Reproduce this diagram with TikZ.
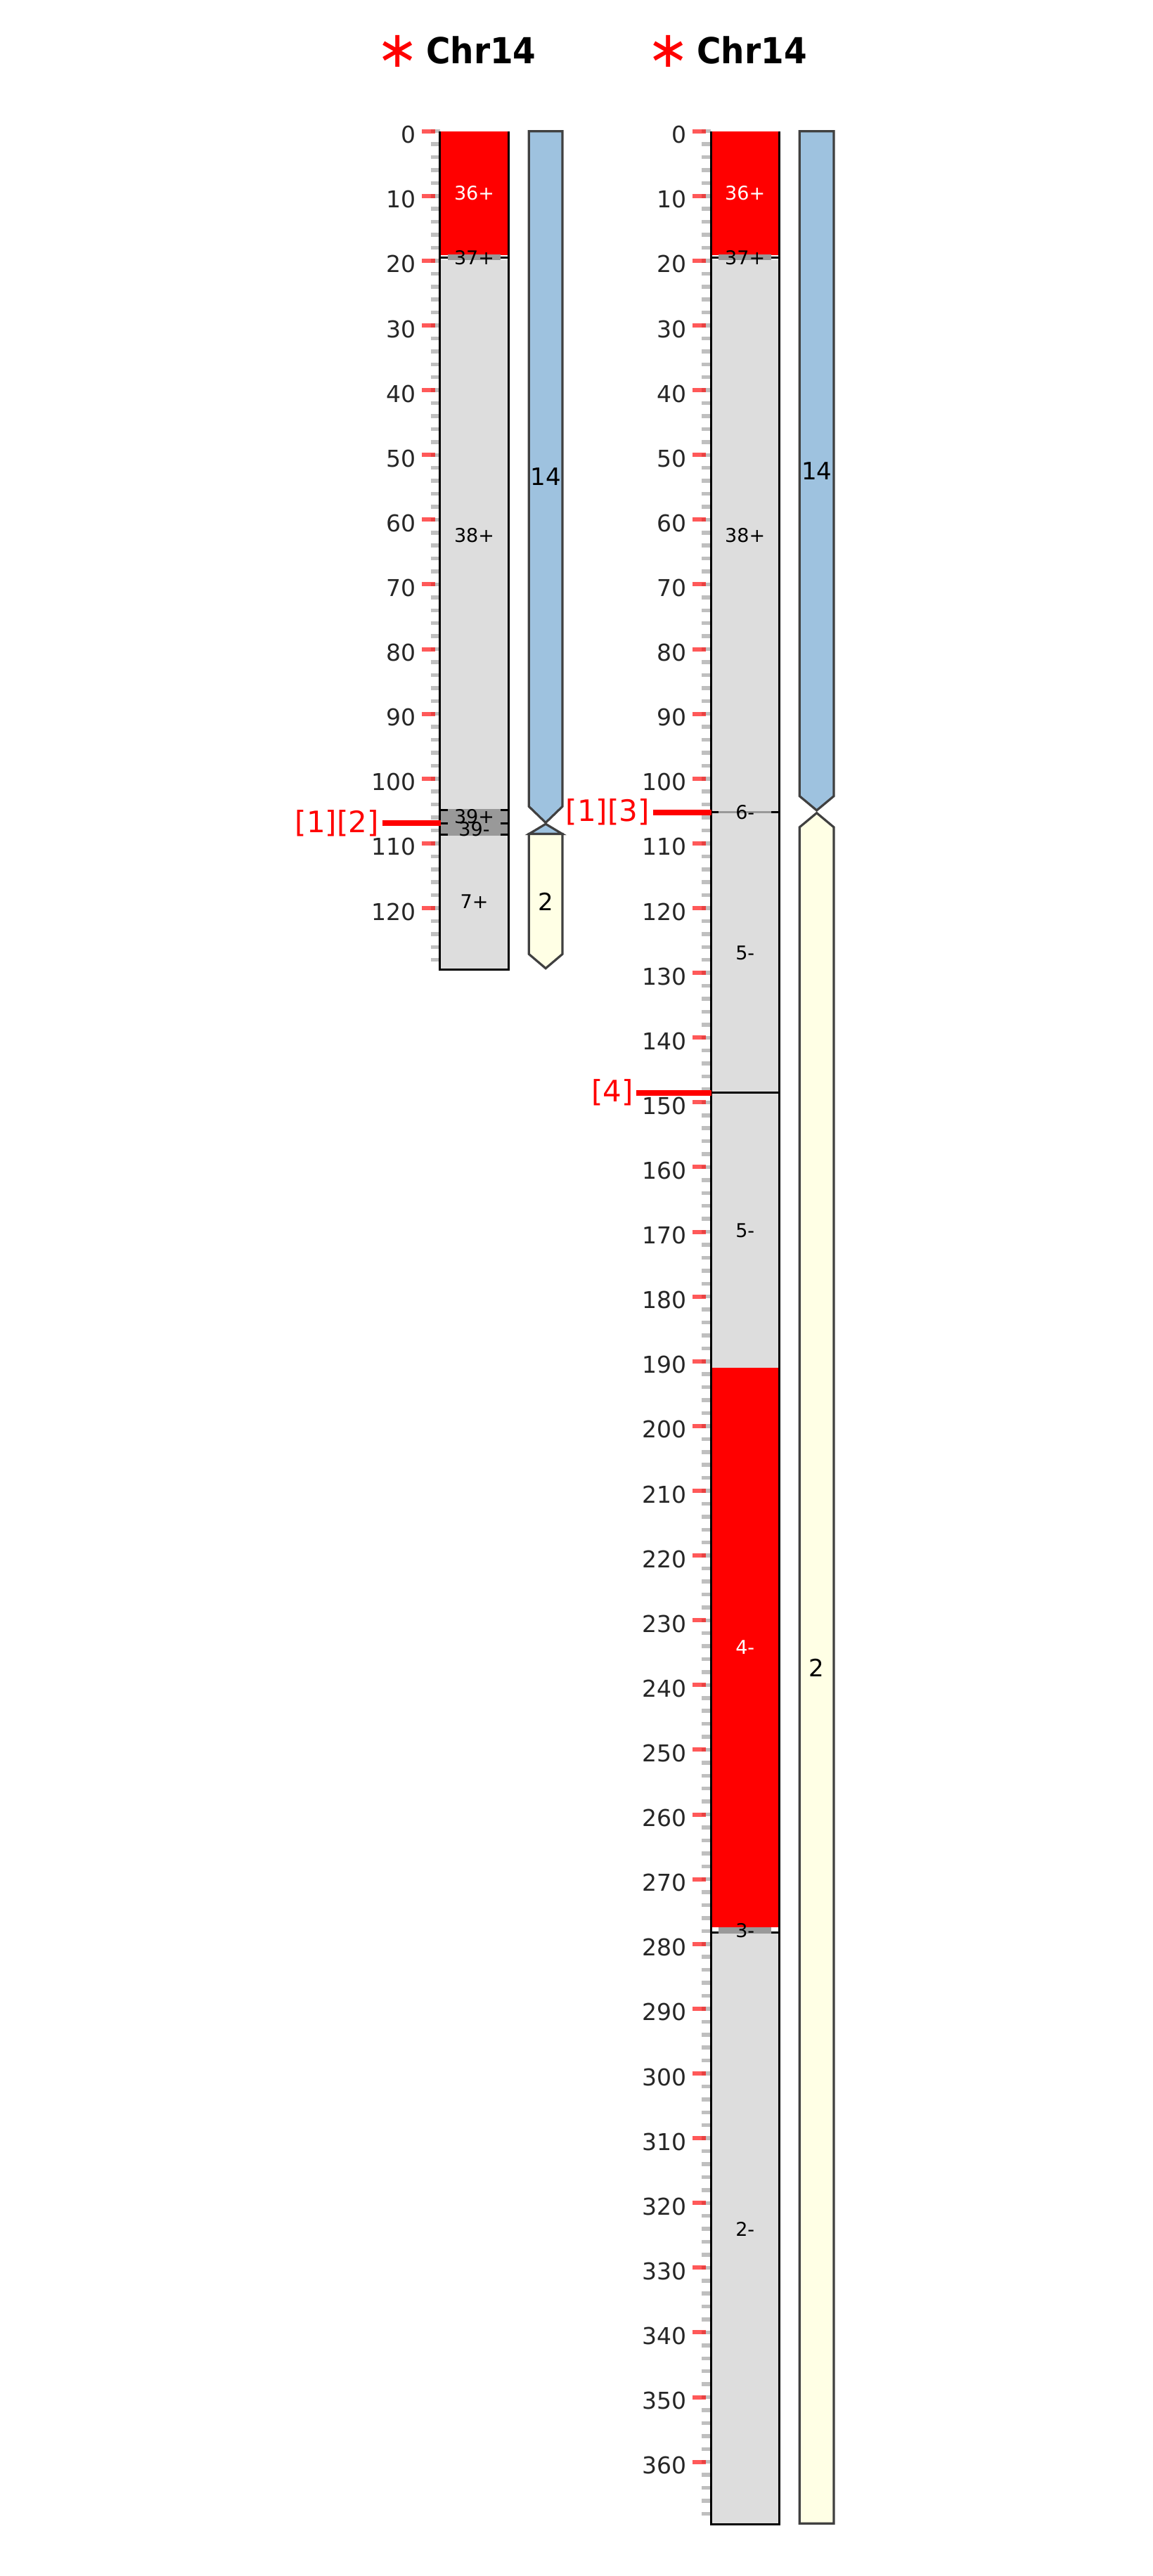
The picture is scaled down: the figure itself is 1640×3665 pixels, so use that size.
\documentclass[tikz,border=0pt]{standalone}
\usepackage{fontspec}
\setmainfont{DejaVu Sans}
\newfontfamily\titlefont{DejaVu Sans}[FakeStretch=0.92]
\definecolor{segred}{HTML}{FF0000}
\definecolor{seggrey}{HTML}{DDDDDD}
\definecolor{thingrey}{HTML}{999999}
\definecolor{tickgrey}{HTML}{BFBFBF}
\definecolor{blockblue}{HTML}{9EC2DF}
\definecolor{blockyellow}{HTML}{FFFFE5}
\definecolor{edgegrey}{HTML}{404040}
\definecolor{labgrey}{HTML}{262626}
\tikzset{
  ticklab/.style={anchor=east, text=labgrey, font=\fontsize{33}{40}\selectfont, inner sep=0pt, yshift=-5pt},
  seglab/.style={font=\fontsize{27}{32}\selectfont, inner sep=0pt},
  blocklab/.style={font=\fontsize{34}{40}\selectfont, inner sep=0pt},
  marklab/.style={anchor=east, text=red, font=\fontsize{42}{50}\selectfont, inner sep=0pt},
  markline/.style={red, line width=8pt},
  minortick/.style={tickgrey, line width=5.5pt},
  majortick/.style={red, opacity=0.65, line width=6pt},
  chromedge/.style={draw=black, line width=3pt},
  bndline/.style={black, line width=3pt},
  bndover/.style={thingrey, line width=3.5pt},
  blockshape/.style={draw=edgegrey, line width=3.2pt, line join=miter},
  titlelab/.style={anchor=base west, font=\titlefont\bfseries\fontsize{51}{60}\selectfont, inner sep=0pt},
  starlab/.style={text=red, font=\fontsize{72}{80}\selectfont, inner sep=0pt},
}
\begin{document}
\begin{tikzpicture}[x=1pt, y=-1pt]
\useasboundingbox (0,0) rectangle (1640,3665);
% titles
\node[starlab] (star1) at (565.4,72.5) {∗};
\node[titlelab] (title1) at (606,90) {Chr14};
\node[starlab] (star2) at (950.7,72.5) {∗};
\node[titlelab] (title2) at (991.3,90) {Chr14};

% ===== left chromosome =====
\begin{scope}[yshift=-186.7pt, y=-9.211pt]
  \foreach \v in {0,2,...,128} \draw[minortick] (612.7,\v) -- (625.7,\v);
  \foreach \v in {0,10,...,120} {
    \draw[majortick] (600,\v) -- (619,\v);
    \node[ticklab] (ltl\v) at (591.7,\v) {\v};
  }
  % segments
  \fill[segred] (625.7,0) rectangle (723.3,19.1);
  \fill[thingrey] (637,19.0) rectangle (712,19.9);
  \fill[seggrey] (625.7,19.9) rectangle (723.3,104.9);
  \fill[thingrey] (625.7,104.9) rectangle (723.3,108.6);
  \fill[seggrey] (625.7,108.6) rectangle (723.3,129.5);
  % boundaries
  \foreach \b in {19.5,104.9,106.9,108.6} {
    \draw[bndline] (625.7,\b) -- (723.3,\b);
    \draw[bndover] (637,\b) -- (712,\b);
  }
  \draw[chromedge] (625.7,0) -- (625.7,129.5) -- (723.3,129.5) -- (723.3,0);
  % segment labels
  \node[seglab, text=white] (l36) at (674.5,9.55) {36+};
  \node[seglab] (l37) at (674.5,19.5) {37+};
  \node[seglab] (l38) at (674.5,62.4) {38+};
  \node[seglab] (l39p) at (674.5,105.9) {39+};
  \node[seglab] (l39m) at (674.5,107.8) {39-};
  \node[seglab] (l7) at (674.5,119.0) {7+};
  % blocks
  \draw[blockshape, fill=blockblue] (752.3,0) -- (800,0) -- (800,104.3) -- (776.15,106.8) -- (752.3,104.3) -- cycle;
  \draw[blockshape, fill=blockblue] (776.15,107.0) -- (800,108.55) -- (752.3,108.55) -- cycle;
  \draw[blockshape, fill=blockyellow] (752.3,108.55) -- (800,108.55) -- (800,127.1) -- (776.15,129.3) -- (752.3,127.1) -- cycle;
  \node[blocklab] (lb14) at (776.15,53.4) {14};
  \node[blocklab] (lb2) at (776.15,119.0) {2};
  % marker
  \node[marklab] (lm12) at (539,106.9) {[1][2]};
  \coordinate (lm12a) at (544,106.9);
  \coordinate (lm12b) at (626.7,106.9);
  \draw[markline] (lm12a) -- (lm12b);
\end{scope}

% ===== right chromosome =====
\begin{scope}[yshift=-186.7pt, y=-9.211pt]
  \foreach \v in {0,2,...,368} \draw[minortick] (998,\v) -- (1011,\v);
  \foreach \v in {0,10,...,360} {
    \draw[majortick] (985.3,\v) -- (1004.3,\v);
    \node[ticklab] (rtl\v) at (977,\v) {\v};
  }
  % segments
  \fill[segred] (1011,0) rectangle (1108.3,19.1);
  \fill[thingrey] (1022,19.0) rectangle (1097,19.9);
  \fill[seggrey] (1011,19.9) rectangle (1108.3,191.0);
  \fill[segred] (1011,191.0) rectangle (1108.3,277.4);
  \fill[thingrey] (1022,277.4) rectangle (1097,278.3);
  \fill[seggrey] (1011,278.3) rectangle (1108.3,369.6);
  % boundaries
  \foreach \b in {19.5,105.2,278.2} {
    \draw[bndline] (1011,\b) -- (1108.3,\b);
    \draw[bndover] (1022,\b) -- (1097,\b);
  }
  \draw[bndline] (1011,148.5) -- (1108.3,148.5);
  \draw[chromedge] (1011,0) -- (1011,369.6) -- (1108.3,369.6) -- (1108.3,0);
  % segment labels
  \node[seglab, text=white] (r36) at (1059.7,9.55) {36+};
  \node[seglab] (r37) at (1059.7,19.5) {37+};
  \node[seglab] (r38) at (1059.7,62.4) {38+};
  \node[seglab] (r6) at (1059.7,105.2) {6-};
  \node[seglab] (r5a) at (1059.7,126.9) {5-};
  \node[seglab] (r5b) at (1059.7,169.8) {5-};
  \node[seglab, text=white] (r4) at (1059.7,234.2) {4-};
  \node[seglab] (r3) at (1059.7,277.9) {3-};
  \node[seglab] (r2) at (1059.7,324.0) {2-};
  % blocks
  \draw[blockshape, fill=blockblue] (1137.3,0) -- (1186,0) -- (1186,102.7) -- (1161.65,104.9) -- (1137.3,102.7) -- cycle;
  \draw[blockshape, fill=blockyellow] (1161.65,105.3) -- (1186,107.5) -- (1186,369.5) -- (1137.3,369.5) -- (1137.3,107.5) -- cycle;
  \node[blocklab] (rb14) at (1161.65,52.5) {14};
  \node[blocklab] (rb2) at (1161.65,237.3) {2};
  % markers
  \node[marklab] (rm13) at (924,105.2) {[1][3]};
  \coordinate (rm13a) at (929,105.2);
  \coordinate (rm13b) at (1012,105.2);
  \draw[markline] (rm13a) -- (rm13b);
  \node[marklab] (rm4) at (901,148.5) {[4]};
  \coordinate (rm4a) at (905,148.5);
  \coordinate (rm4b) at (1012,148.5);
  \draw[markline] (rm4a) -- (rm4b);
\end{scope}
\end{tikzpicture}
\end{document}
